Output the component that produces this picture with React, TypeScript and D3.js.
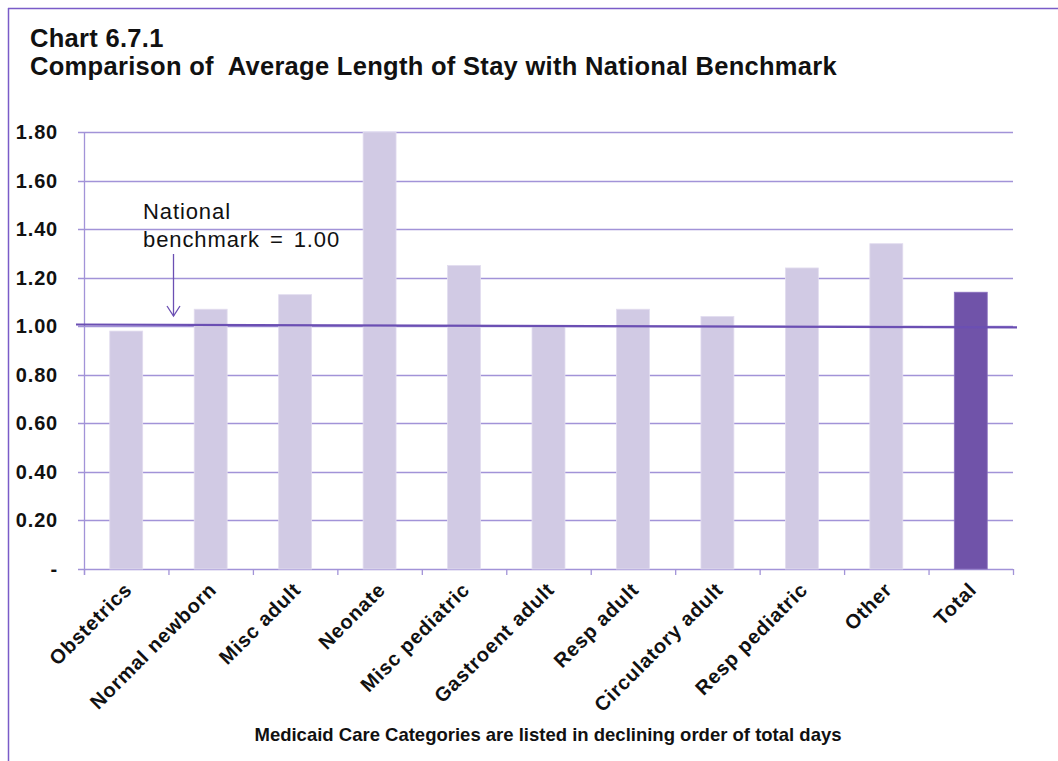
import React from "react";
import * as d3 from "d3";

const categories = [
  "Obstetrics", "Normal newborn", "Misc adult", "Neonate", "Misc pediatric",
  "Gastroent adult", "Resp adult", "Circulatory adult", "Resp pediatric", "Other", "Total",
];
const values = [0.98, 1.07, 1.13, 1.8, 1.25, 1.0, 1.07, 1.04, 1.24, 1.34, 1.14];
const yTicks = [0, 0.2, 0.4, 0.6, 0.8, 1.0, 1.2, 1.4, 1.6, 1.8];
const benchmark = 1.0;
const titleLines = ["Chart 6.7.1", "Comparison of  Average Length of Stay with National Benchmark"];
const xAxisTitle = "Medicaid Care Categories are listed in declining order of total days";
const annotationLines = ["National", "benchmark = 1.00"];

const W = 1058, H = 761;
const plot = { left: 84, right: 1013, top: 132, bottom: 569 };
const gridColor = "#a293d8";
const barLight = "#d1cae4";
const barDark = "#7053a9";
const lineColor = "#6b4fb3";
const font = "'Liberation Sans', Arial, sans-serif";

export default function App() {
  const x = d3.scaleBand<string>().domain(categories).range([plot.left, plot.right]).paddingInner(0.61).paddingOuter(0.305);
  const band = d3.scaleBand<string>().domain(categories).range([plot.left, plot.right]).padding(0);
  const y = d3.scaleLinear().domain([0, 1.8]).range([plot.bottom, plot.top]);
  const fmt = (v: number) => (v === 0 ? "-" : d3.format(".2f")(v));
  const boundaries = categories.map((c) => band(c)!).concat([plot.right]);

  return (
    <div style={{ position: "absolute", left: 0, top: 0 }}>
      <svg width={W} height={H} style={{ display: "block" }}>
        <rect x={0} y={0} width={W} height={H} fill="#fff" />
        {/* frame */}
        <line x1={8.5} y1={8} x2={8.5} y2={H} stroke="#7a5cc8" strokeWidth={1.5} />
        <line x1={8} y1={8.5} x2={W} y2={8.5} stroke="#7a5cc8" strokeWidth={1.5} />
        {/* title */}
        {titleLines.map((t, i) => (
          <text key={i} x={30} y={47 + i * 28} fontFamily={font} fontWeight="bold" fontSize={25.5}
            letterSpacing={0.3} fill="#111" style={{ whiteSpace: "pre" }}>{t}</text>
        ))}
        {/* gridlines */}
        {yTicks.map((t) => (
          <g key={t}>
            <line x1={plot.left - 6} x2={plot.right} y1={Math.round(y(t)) + 0.5} y2={Math.round(y(t)) + 0.5}
              stroke={gridColor} strokeWidth={1.3} />
            <text x={58} y={y(t) + 7} textAnchor="end" fontFamily={font} fontWeight="bold" fontSize={20}
              letterSpacing={0.8} fill="#111">
              {fmt(t)}
            </text>
          </g>
        ))}
        {/* y axis */}
        <line x1={plot.left + 0.5} x2={plot.left + 0.5} y1={plot.top} y2={plot.bottom + 6} stroke={gridColor} strokeWidth={1.3} />
        {/* x ticks */}
        {boundaries.map((b, i) => (
          <line key={i} x1={b + 0.5} x2={b + 0.5} y1={plot.bottom} y2={plot.bottom + 6} stroke={gridColor} strokeWidth={1.3} />
        ))}
        {/* bars */}
        {categories.map((c, i) => (
          <rect key={c} x={x(c)} y={y(values[i])} width={x.bandwidth()} height={y(0) - y(values[i])}
            fill={c === "Total" ? barDark : barLight} stroke={c === "Total" ? "#8a70bf" : "#e2dcef"} strokeWidth={0.8} />
        ))}
        {/* benchmark line */}
        <line x1={76} x2={1017} y1={y(benchmark + 0.007)} y2={y(benchmark - 0.005)} stroke={lineColor} strokeWidth={2.2} />
        {/* annotation */}
        {annotationLines.map((t, i) => (
          <text key={i} x={143} y={219 + i * 28} fontFamily={font} fontSize={22} letterSpacing={0.9}
            wordSpacing={3} fill="#111">{t}</text>
        ))}
        <line x1={173.5} x2={173.5} y1={254} y2={316} stroke={lineColor} strokeWidth={1.3} />
        <path d={`M167,306 L173.5,316 L180,306`} fill="none" stroke={lineColor} strokeWidth={1.3} />
        {/* x labels */}
        {categories.map((c) => {
          const cx = band(c)! + band.bandwidth() / 2 + 7;
          const cy = plot.bottom + 22;
          return (
            <text key={c} transform={`translate(${cx},${cy}) rotate(-45)`} textAnchor="end"
              fontFamily={font} fontWeight="bold" fontSize={20} letterSpacing={0.8} fill="#111">{c}</text>
          );
        })}
        {/* x axis title */}
        <text x={548} y={741} textAnchor="middle" fontFamily={font} fontWeight="bold" fontSize={18.5} fill="#111">{xAxisTitle}</text>
      </svg>
    </div>
  );
}
